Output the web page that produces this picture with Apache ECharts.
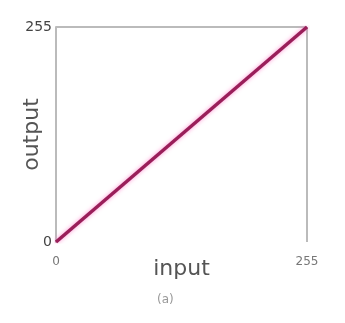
<!DOCTYPE html>
<html>
<head>
<meta charset="utf-8">
<script src="https://cdn.jsdelivr.net/npm/echarts@6/dist/echarts.min.js"></script>
<style>
  html, body { margin: 0; padding: 0; background: #fff; }
  #chart { width: 345px; height: 323px; }
</style>
</head>
<body>
<div id="chart"></div>
<script>
const inputVals = [0, 255]
const outputVals = [0, 255]
const tickLabels = [0, 255]

const chart = echarts.init(document.getElementById('chart'))
const option = {
  animation: false,
  title: {
    text: '(a)',
    left: 152,
    top: 289,
    textStyle: { fontSize: 12, fontWeight: 'normal', color: '#999', fontFamily: 'DejaVu Sans' }
  },
  grid: { left: 56, right: 38, top: 27, bottom: 81, outerBoundsMode: 'none', containLabel: false },
  xAxis: {
    type: 'value',
    min: tickLabels[0],
    max: tickLabels[1],
    interval: 255,
    name: 'input',
    nameLocation: 'middle',
    nameGap: 16,
    nameMoveOverlap: false,
    nameTextStyle: { fontSize: 22, color: '#555', fontFamily: 'DejaVu Sans', verticalAlign: 'top' },
    axisLine: { show: false },
    axisTick: { show: false },
    axisLabel: { fontSize: 12, color: '#777', margin: 14, fontFamily: 'DejaVu Sans' },
    splitLine: { show: true, lineStyle: { color: ['transparent', '#bbb'], width: 2 } }
  },
  yAxis: {
    type: 'value',
    min: tickLabels[0],
    max: tickLabels[1],
    interval: 255,
    name: 'output',
    nameLocation: 'middle',
    nameGap: 13,
    nameMoveOverlap: false,
    nameTextStyle: { fontSize: 22, color: '#555', fontFamily: 'DejaVu Sans' },
    axisLine: { show: true, lineStyle: { color: '#bbb', width: 2 } },
    axisTick: { show: false },
    axisLabel: { fontSize: 14, color: '#444', margin: 4, fontFamily: 'DejaVu Sans' },
    splitLine: { show: true, lineStyle: { color: ['transparent', '#bbb'], width: 2 } }
  },
  series: [{
    type: 'line',
    data: inputVals.map((x, i) => [x, outputVals[i]]),
    symbol: 'none',
    lineStyle: {
      color: '#9a1f5a',
      width: 3.5,
      shadowColor: 'rgba(255,120,200,0.8)',
      shadowBlur: 4
    }
  }]
}
chart.setOption(option)
</script>
</body>
</html>
